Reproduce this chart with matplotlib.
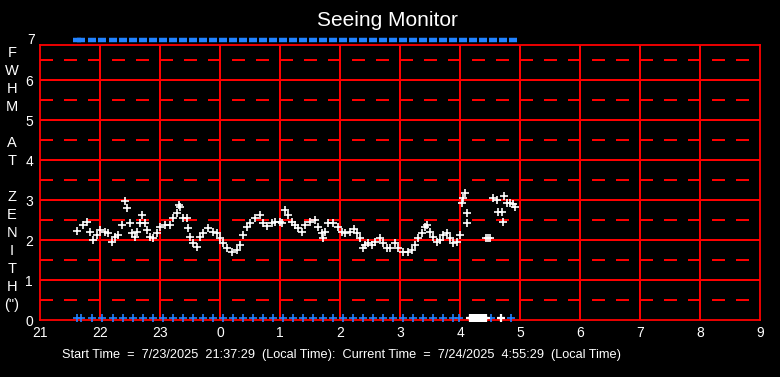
import numpy as np
import matplotlib.pyplot as plt

plt.rcParams['font.family'] = ['Liberation Sans', 'DejaVu Sans']

# minutes after 21:00 and FWHM at zenith (arcsec)
minutes = [37, 43, 47, 50, 53, 57, 60, 65, 68, 72, 75, 78, 82, 85, 87, 90, 92, 95, 97, 100,
           102, 105, 107, 110, 113, 117, 120, 125, 130, 133, 137, 139, 140, 143, 147, 148, 150, 153, 157, 160,
           163, 168, 173, 177, 180, 183, 187, 192, 197, 200, 203, 207, 210, 215, 220, 223, 227, 232, 235, 240,
           242, 245, 248, 252, 255, 258, 262, 265, 270, 275, 278, 282, 283, 285, 288, 293, 298, 302, 305, 310,
           314, 317, 320, 323, 325, 328, 332, 335, 340, 343, 347, 350, 355, 358, 363, 368, 372, 375, 378, 382,
           385, 387, 390, 393, 397, 400, 403, 407, 410, 413, 417, 420, 422, 423, 425, 427, 427, 446, 448, 450,
           453, 457, 458, 462, 463, 464, 467, 470, 473, 475]
fwhm = [2.23, 2.38, 2.45, 2.20, 2.00, 2.13, 2.25, 2.20, 2.18, 1.95, 2.08, 2.13, 2.38, 2.98, 2.80, 2.43, 2.18, 2.08, 2.20, 2.43,
        2.63, 2.43, 2.25, 2.08, 2.05, 2.18, 2.33, 2.38, 2.38, 2.55, 2.68, 2.88, 2.83, 2.55, 2.55, 2.30, 2.08, 1.93, 1.83, 2.08,
        2.18, 2.30, 2.20, 2.18, 2.05, 1.93, 1.80, 1.70, 1.75, 1.88, 2.13, 2.33, 2.43, 2.55, 2.63, 2.43, 2.35, 2.43, 2.45, 2.45,
        2.43, 2.75, 2.63, 2.45, 2.38, 2.30, 2.20, 2.38, 2.45, 2.50, 2.33, 2.18, 2.05, 2.20, 2.43, 2.43, 2.33, 2.20, 2.18, 2.20,
        2.28, 2.18, 2.05, 1.80, 1.88, 1.93, 1.88, 1.95, 2.05, 1.93, 1.80, 1.80, 1.93, 1.80, 1.70, 1.70, 1.75, 1.88, 2.05, 2.18,
        2.33, 2.38, 2.20, 2.08, 1.95, 2.00, 2.13, 2.18, 2.05, 1.93, 1.95, 2.13, 2.93, 3.05, 3.18, 2.43, 2.68, 2.05, 2.05, 2.05,
        3.05, 3.00, 2.70, 2.70, 2.45, 3.10, 2.93, 2.93, 2.90, 2.83]

# status flags (minutes after 21:00)
flag_min = [37, 41, 52, 62, 73, 83, 93, 103, 113, 123, 133, 143, 153, 163, 173, 183, 193, 203, 213, 223,
            233, 243, 253, 263, 273, 283, 293, 303, 313, 323, 333, 343, 353, 363, 373, 383, 393, 403, 413, 423,
            433, 443, 453, 463, 473]
bad_min = [430, 432, 434, 436, 438, 440, 442, 444, 446, 461]
good_bottom = [37, 41, 52, 62, 73, 83, 93, 103, 113, 123, 133, 143, 153, 163, 173, 183, 193, 203, 213, 223,
               233, 243, 253, 263, 273, 283, 293, 303, 313, 323, 333, 343, 353, 363, 373, 383, 393, 403, 413, 419,
               451, 471]

hour_labels = ['21', '22', '23', '0', '1', '2', '3', '4', '5', '6', '7', '8', '9']
ylabel_chars = ['F', 'W', 'H', 'M', '', 'A', 'T', '', 'Z', 'E', 'N', 'I', 'T', 'H', '(")']

red = '#ff0000'
blue = '#2282ff'

fig = plt.figure(figsize=(7.8, 3.77), dpi=100, facecolor='black')
ax = fig.add_axes([40 / 780, 1 - 320 / 377, 720 / 780, 275 / 377])
ax.set_facecolor('black')

ax.set_xlim(0, 12)
ax.set_ylim(0, 6.875)

for h in range(1, 12):
    ax.axvline(h, color=red, lw=1.2, antialiased=False, zorder=1)
for v in range(1, 7):
    ax.axhline(v, color=red, lw=1.2, antialiased=False, zorder=1)
    ax.axhline(v - 0.5, color=red, lw=1.2, dashes=(7.5, 6.9), antialiased=False, zorder=1)
ax.axhline(6.5, color=red, lw=1.2, dashes=(7.5, 6.9), antialiased=False, zorder=1)

for s in ax.spines.values():
    s.set_color(red)
    s.set_linewidth(1.3)

t = np.array(minutes) / 60.0
ax.plot(t, fwhm, '+', color='white', ms=5.2, mew=1.2, zorder=3)

ax.plot(np.array(flag_min) / 60.0, [7.0] * len(flag_min), '_', color=blue, ms=6.1, mew=3.2,
        clip_on=False, zorder=4)
ax.plot(np.array(good_bottom) / 60.0, [0.05] * len(good_bottom), '+', color=blue, ms=5.2, mew=1.2,
        clip_on=False, zorder=4)
ax.plot(np.array(bad_min) / 60.0, [0.05] * len(bad_min), '+', color='white', ms=5.2, mew=1.6,
        clip_on=False, zorder=4)

ax.set_xticks(range(13))
ax.set_xticklabels(hour_labels)
ax.set_yticks(range(7))
ax.tick_params(colors='white', length=0, labelsize=10, pad=4)
ax.tick_params(axis='y', pad=5)
ax.text(-0.085, 7.0, '7', color='white', fontsize=10, ha='right', va='center')

fig.text(387 / 780, 1 - 20 / 377, 'Seeing Monitor', color='white', fontsize=15,
         ha='center', va='center')

for i, ch in enumerate(ylabel_chars):
    fig.text(12 / 780, 1 - (53 + 18 * i) / 377, ch, color='white', fontsize=10.5,
             ha='center', va='center')

fig.text(62 / 780, 1 - 355 / 377,
         'Start Time  =  7/23/2025  21:37:29  (Local Time):  Current Time  =  7/24/2025  4:55:29  (Local Time)',
         color='white', fontsize=9.2, ha='left', va='center')

fig.savefig('out.png', dpi=100, facecolor='black')
